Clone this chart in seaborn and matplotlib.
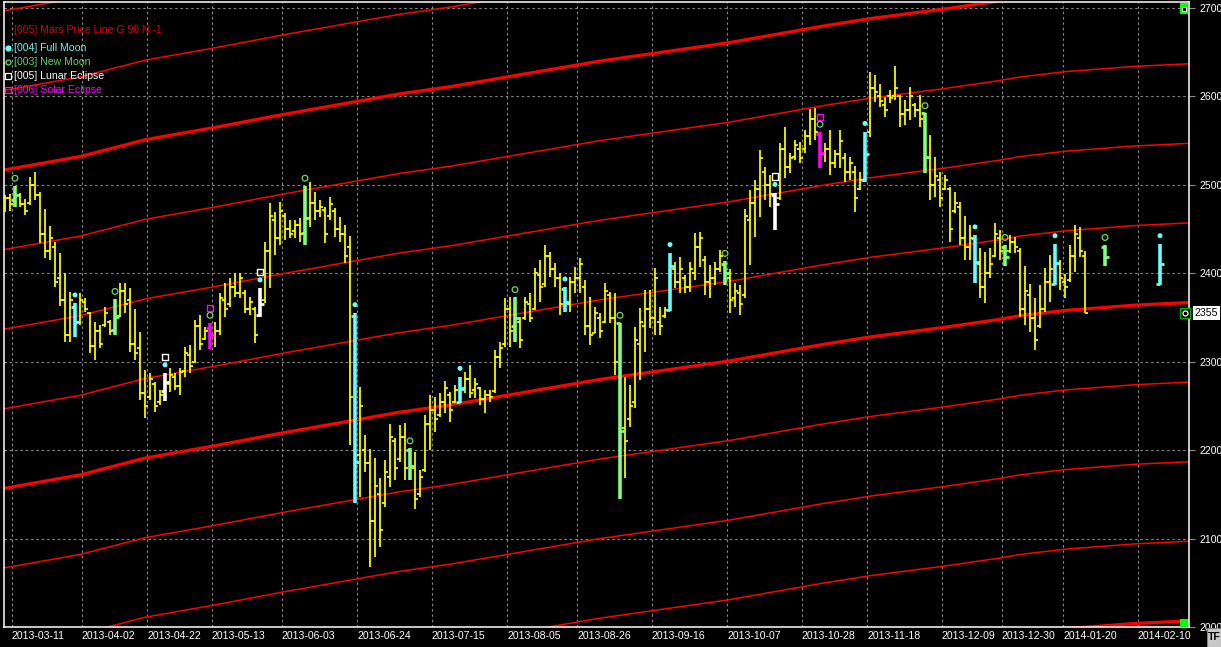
import numpy as np
import pandas as pd
import matplotlib
matplotlib.use("Agg")
import matplotlib.pyplot as plt
import matplotlib.transforms as mtransforms
from matplotlib.patches import Rectangle
from matplotlib.lines import Line2D
import seaborn as sns

# ---------------- data (daily OHLC bars, index = trading bar number) ----------------
bar_high = [
    2489, 2490, 2499, 2491, 2484, 2509, 2515, 2492, 2473, 2453,
    2435, 2423, 2400, 2379, 2366, 2378, 2372, 2356, 2345, 2341,
    2362, 2347, 2371, 2389, 2389, 2383, 2360, 2334, 2291, 2287,
    2277, 2268, 2287, 2293, 2287, 2293, 2317, 2319, 2347, 2353,
    2339, 2344, 2345, 2378, 2389, 2395, 2400, 2400, 2381, 2373,
    2362, 2383, 2435, 2479, 2469, 2481, 2468, 2460, 2460, 2462,
    2499, 2503, 2492, 2483, 2475, 2486, 2474, 2464, 2455, 2442,
    2355, 2271, 2217, 2201, 2191, 2168, 2189, 2230, 2214, 2228,
    2231, 2202, 2198, 2178, 2240, 2262, 2260, 2265, 2278, 2266,
    2274, 2283, 2288, 2296, 2282, 2271, 2268, 2268, 2313, 2322,
    2372, 2373, 2373, 2351, 2373, 2378, 2406, 2415, 2432, 2424,
    2412, 2400, 2384, 2396, 2407, 2417, 2392, 2373, 2362, 2355,
    2389, 2379, 2378, 2344, 2283, 2274, 2339, 2361, 2381, 2381,
    2406, 2362, 2362, 2423, 2413, 2418, 2398, 2413, 2446, 2447,
    2420, 2409, 2413, 2426, 2414, 2405, 2389, 2387, 2473, 2494,
    2505, 2539, 2520, 2511, 2491, 2547, 2565, 2536, 2551, 2548,
    2562, 2586, 2587, 2560, 2547, 2562, 2539, 2562, 2536, 2531,
    2521, 2515, 2560, 2628, 2624, 2614, 2599, 2607, 2634, 2602,
    2596, 2611, 2593, 2602, 2581, 2556, 2531, 2515, 2511, 2498,
    2492, 2481, 2465, 2455, 2443, 2429, 2424, 2429, 2457, 2449,
    2432, 2443, 2441, 2429, 2408, 2388, 2372, 2387, 2406, 2421,
    2433, 2415, 2399, 2432, 2455, 2452, 2425,
]
bar_low = [
    2469, 2470, 2475, 2475, 2466, 2477, 2483, 2434, 2417, 2415,
    2384, 2363, 2322, 2322, 2328, 2342, 2356, 2310, 2302, 2315,
    2339, 2330, 2330, 2351, 2355, 2311, 2302, 2257, 2236, 2257,
    2243, 2251, 2256, 2266, 2268, 2262, 2283, 2287, 2298, 2313,
    2325, 2314, 2317, 2330, 2351, 2362, 2373, 2372, 2355, 2353,
    2321, 2351, 2366, 2383, 2421, 2432, 2438, 2440, 2440, 2435,
    2432, 2452, 2460, 2464, 2434, 2460, 2441, 2435, 2412, 2206,
    2140, 2147, 2175, 2068, 2079, 2090, 2136, 2158, 2166, 2187,
    2166, 2166, 2133, 2147, 2175, 2200, 2220, 2237, 2242, 2232,
    2253, 2253, 2265, 2259, 2259, 2251, 2242, 2254, 2265, 2293,
    2317, 2317, 2322, 2315, 2347, 2345, 2358, 2367, 2384, 2396,
    2384, 2353, 2356, 2356, 2378, 2378, 2330, 2319, 2332, 2327,
    2344, 2344, 2285, 2145, 2168, 2226, 2248, 2279, 2311, 2338,
    2330, 2330, 2349, 2357, 2383, 2378, 2378, 2379, 2392, 2407,
    2375, 2372, 2387, 2401, 2387, 2355, 2362, 2353, 2372, 2409,
    2441, 2464, 2483, 2475, 2449, 2483, 2508, 2513, 2528, 2525,
    2536, 2545, 2551, 2519, 2526, 2511, 2519, 2519, 2503, 2505,
    2469, 2494, 2503, 2554, 2594, 2588, 2577, 2593, 2596, 2565,
    2568, 2573, 2577, 2565, 2513, 2483, 2486, 2475, 2494, 2435,
    2468, 2432, 2415, 2415, 2389, 2372, 2366, 2395, 2418, 2415,
    2408, 2423, 2423, 2351, 2341, 2334, 2313, 2338, 2356, 2368,
    2387, 2381, 2372, 2390, 2401, 2418, 2355,
]
bar_open = [
    2475, 2485, 2483, 2488, 2478, 2480, 2500, 2488, 2445, 2425,
    2430, 2395, 2370, 2330, 2362, 2345, 2368, 2355, 2318, 2335,
    2342, 2345, 2336, 2352, 2380, 2370, 2320, 2315, 2265, 2260,
    2275, 2255, 2267, 2275, 2283, 2272, 2290, 2308, 2300, 2340,
    2326, 2338, 2330, 2335, 2370, 2365, 2385, 2378, 2378, 2360,
    2360, 2353, 2370, 2425, 2460, 2440, 2465, 2450, 2448, 2455,
    2446, 2462, 2480, 2470, 2472, 2465, 2470, 2450, 2445, 2430,
    2352, 2195, 2200, 2185, 2120, 2150, 2140, 2170, 2210, 2190,
    2215, 2200, 2180, 2150, 2178, 2230, 2245, 2240, 2255, 2262,
    2255, 2255, 2270, 2280, 2268, 2270, 2258, 2262, 2267, 2305,
    2320, 2360, 2340, 2345, 2350, 2365, 2360, 2398, 2388, 2420,
    2405, 2395, 2382, 2365, 2390, 2395, 2385, 2340, 2333, 2350,
    2345, 2375, 2350, 2344, 2225, 2235, 2255, 2320, 2340, 2360,
    2350, 2345, 2352, 2358, 2405, 2390, 2395, 2385, 2400, 2430,
    2415, 2390, 2395, 2405, 2410, 2395, 2372, 2378, 2375, 2460,
    2480, 2495, 2515, 2500, 2488, 2485, 2540, 2520, 2532, 2540,
    2540, 2555, 2575, 2558, 2535, 2540, 2525, 2535, 2530, 2515,
    2515, 2495, 2505, 2560, 2610, 2600, 2590, 2600, 2600, 2600,
    2580, 2585, 2590, 2585, 2581, 2530, 2500, 2505, 2495, 2495,
    2470, 2475, 2440, 2430, 2440, 2410, 2385, 2400, 2420, 2440,
    2430, 2425, 2435, 2425, 2360, 2375, 2350, 2340, 2360, 2390,
    2388, 2410, 2390, 2392, 2420, 2440, 2420,
]
bar_close = [
    2485, 2478, 2489, 2478, 2470, 2500, 2488, 2445, 2425, 2440,
    2390, 2370, 2330, 2370, 2345, 2370, 2360, 2318, 2335, 2320,
    2355, 2335, 2351, 2380, 2365, 2320, 2310, 2265, 2250, 2280,
    2250, 2262, 2277, 2285, 2272, 2288, 2310, 2295, 2340, 2320,
    2335, 2330, 2335, 2372, 2360, 2385, 2378, 2395, 2360, 2368,
    2330, 2365, 2425, 2465, 2440, 2470, 2450, 2445, 2455, 2445,
    2462, 2480, 2470, 2475, 2445, 2478, 2450, 2445, 2420, 2260,
    2187, 2250, 2185, 2120, 2160, 2110, 2175, 2215, 2180, 2215,
    2180, 2182, 2145, 2170, 2230, 2245, 2235, 2255, 2270, 2245,
    2268, 2269, 2280, 2265, 2275, 2258, 2262, 2260, 2305, 2315,
    2360, 2335, 2350, 2325, 2368, 2350, 2400, 2385, 2420, 2405,
    2395, 2365, 2367, 2390, 2395, 2410, 2340, 2330, 2355, 2335,
    2380, 2350, 2300, 2222, 2210, 2250, 2325, 2345, 2360, 2350,
    2395, 2340, 2358, 2408, 2390, 2405, 2385, 2405, 2430, 2440,
    2390, 2395, 2405, 2420, 2400, 2370, 2380, 2365, 2465, 2480,
    2495, 2530, 2500, 2490, 2478, 2540, 2520, 2530, 2545, 2530,
    2555, 2575, 2560, 2536, 2540, 2525, 2535, 2550, 2515, 2525,
    2485, 2505, 2535, 2610, 2605, 2595, 2585, 2598, 2610, 2580,
    2585, 2600, 2585, 2575, 2531, 2500, 2510, 2485, 2505, 2450,
    2480, 2440, 2430, 2440, 2413, 2385, 2400, 2410, 2445, 2425,
    2418, 2435, 2430, 2360, 2380, 2350, 2325, 2360, 2390, 2405,
    2412, 2395, 2385, 2420, 2445, 2425, 2355,
]

# astro event bars
full_moon_bars = [14, 70, 91, 112, 133, 172, 194, 210]
new_moon_bars = [2, 22, 60, 81, 102, 123, 144, 184, 200]
lunar_eclipse_bars = [32, 51, 154]
solar_eclipse_bars = [41, 163]

# projected (future) moon markers
proj_index = [220, 231]
proj_kind = ["new", "full"]
proj_high = [2432, 2433]
proj_low = [2408, 2387]
proj_open = [2430, 2388]
proj_close = [2418, 2410]

# Mars price line (G 90 N -1): base curve + harmonic offsets
mars_index = [-1, 15, 28, 42, 56, 70, 79, 89, 119, 145, 163, 173, 188, 199, 203, 212, 226, 237]
mars_base = [2156, 2172, 2191, 2205, 2220, 2234, 2243, 2251, 2280, 2301, 2319, 2328, 2339, 2348, 2352, 2358, 2364, 2367]
mars_offsets = [-360, -270, -180, -90, 0, 90, 180, 270, 360, 450, 540]
mars_major = [-360, 0, 360]

# axis tick labels
date_ticks = [1.4, 15.4, 28.4, 41.4, 55.4, 70.4, 85.4, 100.4, 114.4, 129.4,
              144.4, 159.4, 172.4, 187.4, 199.4, 211.6, 226.6]
date_labels = ["2013-03-11", "2013-04-02", "2013-04-22", "2013-05-13", "2013-06-03",
               "2013-06-24", "2013-07-15", "2013-08-05", "2013-08-26", "2013-09-16",
               "2013-10-07", "2013-10-28", "2013-11-18", "2013-12-09", "2013-12-30",
               "2014-01-20", "2014-02-10"]
price_ticks = [2000, 2100, 2200, 2300, 2400, 2500, 2600, 2700]

legend_items = [
    ("[004] Full Moon", "#70f0f0", "o", "#66ffff", True),
    ("[003] New Moon", "#5fd35f", "o", "#66dd66", False),
    ("[005] Lunar Eclipse", "#ffffff", "s", "#ffffff", False),
    ("[006] Solar Eclipse", "#ff00ff", "s", "#ff00ff", False),
]

# ---------------- styling ----------------
sns.set_theme(style="dark", rc={"axes.facecolor": "black", "figure.facecolor": "black",
                                "savefig.facecolor": "black"})
plt.rcParams['font.family'] = ['Liberation Sans', 'DejaVu Sans']

YELLOW = "#ffff00"
CYAN = "#66ffff"
GREEN = "#80ff80"
GREEN_C = "#66dd66"
WHITE = "#ffffff"
MAGENTA = "#ff00ff"
RED = "#ff0000"
FS = 7.6

W, H = 1221, 647
fig = plt.figure(figsize=(W / 100, H / 100), dpi=100)
ax = fig.add_axes([4 / W, 20 / H, 1185 / W, 625 / H])
ax.set_facecolor("black")

# Mars price lines
mars_df = pd.DataFrame({"bar": mars_index, "base": mars_base})
for off in mars_offsets:
    sns.lineplot(x=mars_df["bar"], y=mars_df["base"] + off, color=RED,
                 linewidth=2.3 if off in mars_major else 1.1,
                 estimator=None, sort=False, legend=False, ax=ax, zorder=1)

# OHLC bars
hi = np.array(bar_high, float)
lo = np.array(bar_low, float)
op = np.array(bar_open, float)
cl = np.array(bar_close, float)
idx = np.arange(len(hi))
special = set(full_moon_bars + new_moon_bars + lunar_eclipse_bars + solar_eclipse_bars)
plain = np.array([i for i in idx if i not in special])

ax.vlines(plain, lo[plain], hi[plain], colors=YELLOW, linewidth=1.25, zorder=3)
ax.hlines(op[plain], plain - 0.55, plain, colors=YELLOW, linewidth=1.25, zorder=3)
ax.hlines(cl[plain], plain, plain + 0.55, colors=YELLOW, linewidth=1.25, zorder=3)


def thick_bars(ix, o, h, l, c, color):
    ix = np.asarray(ix, float)
    ax.vlines(ix, l, h, colors=color, linewidth=2.6, zorder=4)
    ax.hlines(o, ix - 0.75, ix, colors=color, linewidth=2.0, zorder=4)
    ax.hlines(c, ix, ix + 0.75, colors=color, linewidth=2.0, zorder=4)


for group, color in [(full_moon_bars, CYAN), (new_moon_bars, GREEN),
                     (lunar_eclipse_bars, WHITE), (solar_eclipse_bars, MAGENTA)]:
    g = np.array(group)
    thick_bars(g, op[g], hi[g], lo[g], cl[g], color)

p_ix = np.array(proj_index)
p_col = [GREEN if k == "new" else CYAN for k in proj_kind]
for i in range(len(p_ix)):
    thick_bars([p_ix[i]], [proj_open[i]], [proj_high[i]], [proj_low[i]], [proj_close[i]], p_col[i])

# event markers above bars
fm_x = list(full_moon_bars) + list(lunar_eclipse_bars) + [p for p, k in zip(proj_index, proj_kind) if k == "full"]
fm_top = list(hi[full_moon_bars]) + list(hi[lunar_eclipse_bars]) + [h for h, k in zip(proj_high, proj_kind) if k == "full"]
nm_x = list(new_moon_bars) + list(solar_eclipse_bars) + [p for p, k in zip(proj_index, proj_kind) if k == "new"]
nm_top = list(hi[new_moon_bars]) + list(hi[solar_eclipse_bars]) + [h for h, k in zip(proj_high, proj_kind) if k == "new"]

sns.scatterplot(x=fm_x, y=np.array(fm_top) + 9.5, marker="o", s=13, color=CYAN,
                edgecolor="none", ax=ax, zorder=5, legend=False)
sns.scatterplot(x=nm_x, y=np.array(nm_top) + 8.5, marker="o", s=17, facecolor="none",
                edgecolor=GREEN_C, linewidth=0.9, ax=ax, zorder=5, legend=False)
sns.scatterplot(x=lunar_eclipse_bars, y=hi[lunar_eclipse_bars] + 18.5, marker="s", s=20,
                facecolor="none", edgecolor=WHITE, linewidth=1.0, ax=ax, zorder=5, legend=False)
sns.scatterplot(x=solar_eclipse_bars, y=hi[solar_eclipse_bars] + 17, marker="s", s=20,
                facecolor="none", edgecolor=MAGENTA, linewidth=1.0, ax=ax, zorder=5, legend=False)

# axes limits, ticks, grid
ax.set_xlim(-0.2, 236.8)
ax.set_ylim(2000, 2706.8)
ax.set_xlabel("")
ax.set_ylabel("")
ax.set_xticks(date_ticks)
ax.set_xticklabels(date_labels, ha="left")
ax.set_yticks(price_ticks)
ax.set_yticklabels([str(p) for p in price_ticks])
ax.grid(True, color="#8c8c8c", linestyle=(0, (2.2, 2.6)), linewidth=0.8, zorder=0)
ax.set_axisbelow(True)
ax.yaxis.tick_right()
ax.tick_params(axis="x", length=0, pad=3.2, labelsize=FS, labelcolor="white")
ax.tick_params(axis="y", direction="out", length=4.2, width=0.8, color="#909090",
               pad=3.4, labelsize=FS, labelcolor="white", right=True, left=False)
for sp in ax.spines.values():
    sp.set_color("white")
    sp.set_linewidth(1.1)
    sp.set_visible(True)

# last price marker and label on the right axis
last = cl[-1]
blend = mtransforms.blended_transform_factory(ax.transAxes, ax.transData)
ax.plot([0.9966], [last], marker="s", ms=6.5, mfc="black", mec="#00b000", mew=1.0,
        transform=blend, clip_on=False, zorder=6)
ax.plot([0.9966], [last], marker="o", ms=3.6, mfc="none", mec="white", mew=0.9,
        transform=blend, clip_on=False, zorder=7)
ax.text(1.0045, last, f"{last:.0f}", transform=blend, ha="left", va="center",
        fontsize=FS, color="black", clip_on=False, zorder=8,
        bbox=dict(facecolor="white", edgecolor="none", pad=1.3))

# green corner boxes
ax.add_patch(Rectangle((0.9924, 0.9808), 0.0068, 0.0176, transform=ax.transAxes,
                       facecolor="#00ff00", edgecolor="none", zorder=6, clip_on=False))
ax.add_patch(Rectangle((0.9942, 0.9855), 0.0034, 0.006, transform=ax.transAxes,
                       facecolor="black", edgecolor="white", linewidth=0.7, zorder=7, clip_on=False))
ax.add_patch(Rectangle((0.9924, 0.0), 0.0068, 0.0128, transform=ax.transAxes,
                       facecolor="#00ff00", edgecolor="none", zorder=6, clip_on=False))

# legend (top-left)
fig.text(14 / W, 1 - 30 / H, "[005] Mars Price Line G 90 N -1", color="#e00000",
         fontsize=FS, ha="left", va="center")
for j, (label, tcol, mk, mcol, filled) in enumerate(legend_items):
    yy = 1 - (48 + 14 * j) / H
    fig.text(14 / W, yy, label, color=tcol, fontsize=FS, ha="left", va="center")
    fig.add_artist(Line2D([8 / W], [yy], marker=mk, ms=3.6 if mk == "o" else 4.2,
                          mfc=mcol if filled else "none", mec=mcol, mew=0.9,
                          linestyle="none", transform=fig.transFigure))

# "TF" corner button
fig.add_artist(Rectangle((1207 / W, 0), 14 / W, 19 / H, transform=fig.transFigure,
                         facecolor="#c8c8c8", edgecolor="#808080", linewidth=0.8))
fig.text(1214 / W, 9.5 / H, "TF", color="black", fontsize=FS, ha="center", va="center",
         fontweight="bold")

fig.savefig("out.png", dpi=100, facecolor="black")
